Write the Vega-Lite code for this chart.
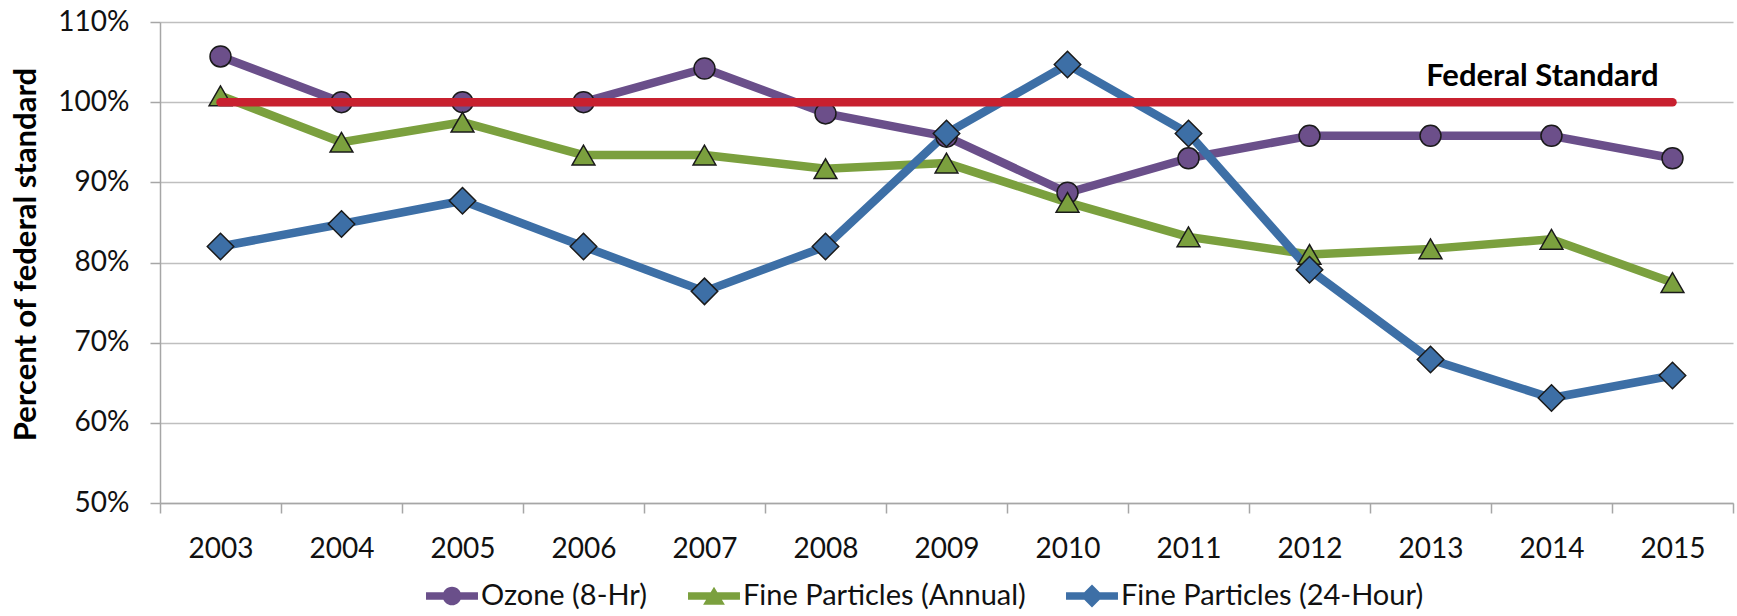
{
  "$schema": "https://vega.github.io/schema/vega-lite/v6.json",
  "width": 1573,
  "height": 481,
  "autosize": {"type": "none"},
  "padding": {"left": 160, "top": 22, "right": 4, "bottom": 113},
  "background": "white",
  "config": {"view": {"stroke": null}},
  "data": {
    "values": [
      {"series": "Ozone (8-Hr)", "year": 2003, "value": 1.057},
      {"series": "Ozone (8-Hr)", "year": 2004, "value": 1.0},
      {"series": "Ozone (8-Hr)", "year": 2005, "value": 1.0},
      {"series": "Ozone (8-Hr)", "year": 2006, "value": 1.0},
      {"series": "Ozone (8-Hr)", "year": 2007, "value": 1.042},
      {"series": "Ozone (8-Hr)", "year": 2008, "value": 0.986},
      {"series": "Ozone (8-Hr)", "year": 2009, "value": 0.957},
      {"series": "Ozone (8-Hr)", "year": 2010, "value": 0.887},
      {"series": "Ozone (8-Hr)", "year": 2011, "value": 0.930},
      {"series": "Ozone (8-Hr)", "year": 2012, "value": 0.958},
      {"series": "Ozone (8-Hr)", "year": 2013, "value": 0.958},
      {"series": "Ozone (8-Hr)", "year": 2014, "value": 0.958},
      {"series": "Ozone (8-Hr)", "year": 2015, "value": 0.930},
      {"series": "Fine Particles (Annual)", "year": 2003, "value": 1.008},
      {"series": "Fine Particles (Annual)", "year": 2004, "value": 0.950},
      {"series": "Fine Particles (Annual)", "year": 2005, "value": 0.975},
      {"series": "Fine Particles (Annual)", "year": 2006, "value": 0.934},
      {"series": "Fine Particles (Annual)", "year": 2007, "value": 0.934},
      {"series": "Fine Particles (Annual)", "year": 2008, "value": 0.917},
      {"series": "Fine Particles (Annual)", "year": 2009, "value": 0.924},
      {"series": "Fine Particles (Annual)", "year": 2010, "value": 0.875},
      {"series": "Fine Particles (Annual)", "year": 2011, "value": 0.832},
      {"series": "Fine Particles (Annual)", "year": 2012, "value": 0.810},
      {"series": "Fine Particles (Annual)", "year": 2013, "value": 0.817},
      {"series": "Fine Particles (Annual)", "year": 2014, "value": 0.829},
      {"series": "Fine Particles (Annual)", "year": 2015, "value": 0.775},
      {"series": "Fine Particles (24-Hour)", "year": 2003, "value": 0.820},
      {"series": "Fine Particles (24-Hour)", "year": 2004, "value": 0.848},
      {"series": "Fine Particles (24-Hour)", "year": 2005, "value": 0.877},
      {"series": "Fine Particles (24-Hour)", "year": 2006, "value": 0.820},
      {"series": "Fine Particles (24-Hour)", "year": 2007, "value": 0.764},
      {"series": "Fine Particles (24-Hour)", "year": 2008, "value": 0.820},
      {"series": "Fine Particles (24-Hour)", "year": 2009, "value": 0.961},
      {"series": "Fine Particles (24-Hour)", "year": 2010, "value": 1.047},
      {"series": "Fine Particles (24-Hour)", "year": 2011, "value": 0.961},
      {"series": "Fine Particles (24-Hour)", "year": 2012, "value": 0.791},
      {"series": "Fine Particles (24-Hour)", "year": 2013, "value": 0.679},
      {"series": "Fine Particles (24-Hour)", "year": 2014, "value": 0.631},
      {"series": "Fine Particles (24-Hour)", "year": 2015, "value": 0.659}
    ]
  },
  "encoding": {
    "x": {
      "field": "year",
      "type": "quantitative",
      "scale": {"domain": [2002.5, 2015.5], "nice": false, "zero": false},
      "axis": {
        "values": [2002.5, 2003.5, 2004.5, 2005.5, 2006.5, 2007.5, 2008.5, 2009.5, 2010.5, 2011.5, 2012.5, 2013.5, 2014.5, 2015.5],
        "labelExpr": "datum.value < 2015 ? format(datum.value + 0.5, 'd') : ''",
        "labelOffset": 60.5,
        "labelFlush": false,
        "labelOverlap": false,
        "labelBound": false,
        "grid": false,
        "tickSize": 10,
        "tickColor": "#a6a6a6",
        "tickWidth": 1.5,
        "domainColor": "#a6a6a6",
        "domainWidth": 1.5,
        "labelFont": "Lato",
        "labelFontSize": 28,
        "labelColor": "#111111",
        "labelPadding": 22,
        "title": null
      }
    },
    "y": {
      "field": "value",
      "type": "quantitative",
      "scale": {"domain": [0.5, 1.1], "nice": false, "zero": false},
      "axis": {
        "values": [0.5, 0.6, 0.7, 0.8, 0.9, 1.0, 1.1],
        "format": ".0%",
        "grid": true,
        "gridColor": "#bfbfbf",
        "gridWidth": 1.5,
        "tickSize": 10,
        "tickColor": "#a6a6a6",
        "tickWidth": 1.5,
        "domainColor": "#a6a6a6",
        "domainWidth": 1.5,
        "labelFont": "Lato",
        "labelFontSize": 28,
        "labelColor": "#111111",
        "labelPadding": 21,
        "title": "Percent of federal standard",
        "titleFont": "Lato",
        "titleFontSize": 31,
        "titleFontWeight": "bold",
        "titleColor": "#000000",
        "titleAngle": -90,
        "titleX": -125,
        "titleY": 232,
        "titleAlign": "center",
        "titleBaseline": "alphabetic"
      }
    }
  },
  "layer": [
    {
      "mark": {"type": "line", "strokeWidth": 8.5, "strokeJoin": "round", "strokeCap": "round"},
      "encoding": {
        "color": {
          "field": "series",
          "type": "nominal",
          "scale": {
            "domain": ["Ozone (8-Hr)", "Fine Particles (Annual)", "Fine Particles (24-Hour)"],
            "range": ["#6a4f8a", "#7ba03e", "#3d6fa6"]
          },
          "legend": {
            "orient": "none",
            "direction": "horizontal",
            "legendX": 266,
            "legendY": 548,
            "title": null,
            "padding": 0,
            "symbolType": "circle",
            "symbolSize": 2700,
            "symbolStrokeWidth": 0,
            "labelFont": "Lato",
            "labelFontSize": 29,
            "labelColor": "#111111",
            "labelOffset": 3,
            "labelLimit": 0,
            "columnPadding": 40,
            "encode": {
              "symbols": {
                "update": {
                  "shape": {"signal": "datum.value === 'Ozone (8-Hr)' ? 'M-1,-0.14H1V0.14H-1Z M0.36,0A0.36,0.36 0 1,1 -0.36,0A0.36,0.36 0 1,1 0.36,0Z' : (datum.value === 'Fine Particles (Annual)' ? 'M-1,-0.14H1V0.14H-1Z M0,-0.36L0.42,0.34H-0.42Z' : 'M-1,-0.14H1V0.14H-1Z M0,-0.44L0.44,0L0,0.44L-0.44,0Z')"},
                  "fill": {"scale": "color", "field": "value"},
                  "strokeWidth": {"value": 0},
                  "opacity": {"value": 1},
                  "fillOpacity": {"value": 1}
                }
              }
            }
          }
        }
      }
    },
    {
      "transform": [{"filter": "datum.series === 'Ozone (8-Hr)'"}],
      "mark": {"type": "point", "shape": "circle", "filled": true, "size": 440, "fill": "#6c4f8a", "stroke": "#1a1a1a", "strokeWidth": 1.5, "opacity": 1}
    },
    {
      "transform": [{"filter": "datum.series === 'Fine Particles (Annual)'"}],
      "mark": {"type": "point", "shape": "triangle-up", "filled": true, "size": 520, "fill": "#7ba03e", "stroke": "#1a1a1a", "strokeWidth": 1.5, "opacity": 1}
    },
    {
      "transform": [{"filter": "datum.series === 'Fine Particles (24-Hour)'"}],
      "mark": {"type": "point", "shape": "diamond", "filled": true, "size": 700, "fill": "#3d6fa6", "stroke": "#1a1a1a", "strokeWidth": 1.5, "opacity": 1}
    },
    {
      "data": {"values": [{"year": 2003, "value": 1.0}, {"year": 2015, "value": 1.0}]},
      "mark": {"type": "line", "color": "#c8202f", "strokeWidth": 8.5, "strokeCap": "round"},
      "encoding": {}
    },
    {
      "data": {"values": [{"year": 2015, "value": 1.0, "label": "Federal Standard"}]},
      "mark": {"type": "text", "align": "right", "baseline": "alphabetic", "dx": -14, "dy": -16, "font": "Lato", "fontSize": 31, "fontWeight": "bold", "color": "#000000"},
      "encoding": {"text": {"field": "label"}}
    }
  ]
}
